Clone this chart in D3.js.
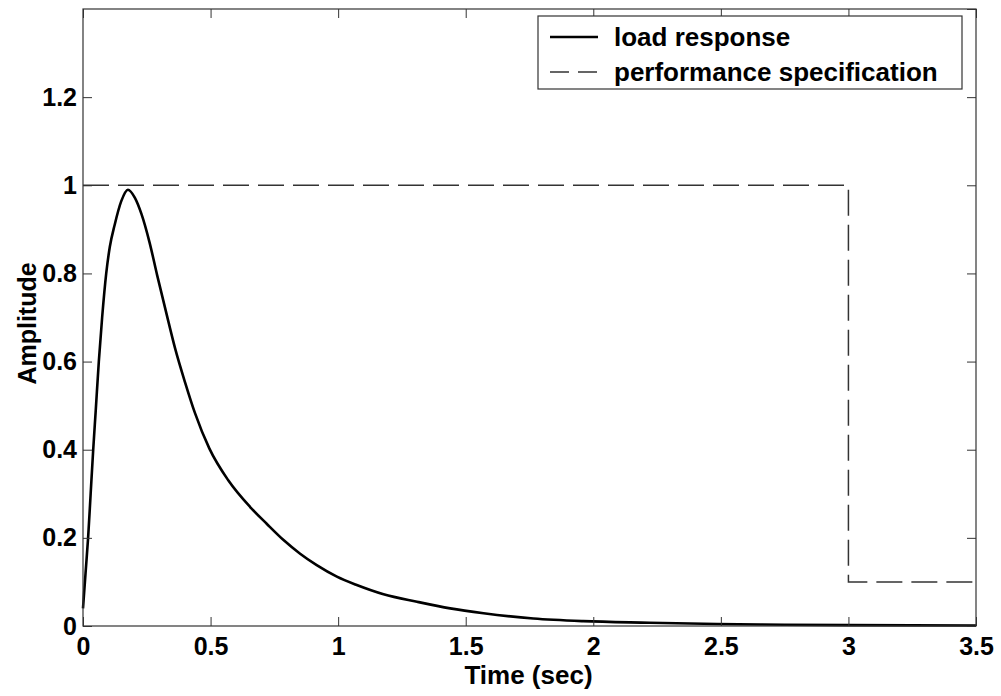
<!DOCTYPE html>
<html>
<head>
  <meta charset="utf-8">
  <title>Load response</title>
  <script src="https://cdn.jsdelivr.net/npm/d3@7/dist/d3.min.js"></script>
  <style>
    body { margin: 0; background: #fff; }
    svg { display: block; font-family: "Liberation Sans", Arial, sans-serif; font-weight: bold; }
    .tick text { font-size: 25px; fill: #000; }
  </style>
</head>
<body>
  <svg id="chart" width="1001" height="696"></svg>
  <script>
    // load response
    var respT = [0, 0.01, 0.02, 0.03, 0.04, 0.05, 0.062, 0.075, 0.091, 0.105, 0.124, 0.15, 0.176,
      0.203, 0.229, 0.261, 0.291, 0.335, 0.361, 0.4, 0.439, 0.495, 0.57, 0.655, 0.72, 0.786,
      0.851, 0.916, 0.995, 1.073, 1.178, 1.309, 1.439, 1.57, 1.765, 1.96, 2.22, 2.485, 2.75, 3.0, 3.5];
    var respY = [0.04, 0.12, 0.20, 0.30, 0.40, 0.49, 0.60, 0.70, 0.80, 0.86, 0.91, 0.964, 0.99,
      0.972, 0.935, 0.87, 0.795, 0.69, 0.63, 0.553, 0.483, 0.403, 0.33, 0.27, 0.232, 0.195,
      0.164, 0.138, 0.112, 0.093, 0.072, 0.055, 0.040, 0.029, 0.017, 0.011, 0.0075, 0.0045, 0.003, 0.002, 0.001];

    // performance specification envelope
    var specT = [0, 3, 3, 3.5];
    var specY = [1, 1, 0.1, 0.1];

    var xTicks = [0, 0.5, 1, 1.5, 2, 2.5, 3, 3.5];
    var yTicks = [0, 0.2, 0.4, 0.6, 0.8, 1, 1.2];

    var legendLabels = ['load response', 'performance specification'];

    var mLeft = 83, mRight = 976, mTop = 9, mBottom = 626;

    var x = d3.scaleLinear().domain([0, 3.5]).range([mLeft, mRight]);
    var y = d3.scaleLinear().domain([0, 1.4]).range([mBottom, mTop]);

    var svg = d3.select('#chart');
    svg.append('rect').attr('width', 1001).attr('height', 696).attr('fill', '#fff');

    var line = d3.line()
      .x(d => x(d[0]))
      .y(d => y(d[1]));

    // spec (dashed)
    svg.append('path')
      .datum(specT.map((t, i) => [t, specY[i]]))
      .attr('d', line)
      .attr('fill', 'none')
      .attr('stroke', '#333')
      .attr('stroke-width', 1.5)
      .attr('stroke-dasharray', '26,9');

    // response (solid)
    svg.append('path')
      .datum(respT.map((t, i) => [t, respY[i]]))
      .attr('d', line.curve(d3.curveMonotoneX))
      .attr('fill', 'none')
      .attr('stroke', '#000')
      .attr('stroke-width', 2.6)
      .attr('stroke-linejoin', 'round');

    // axes, ticks pointing inward like matlab
    function styleAxis(g) {
      g.select('.domain').remove();
      g.selectAll('.tick line').attr('stroke', '#333');
    }

    svg.append('g')
      .attr('transform', 'translate(0,' + mBottom + ')')
      .call(d3.axisTop(x).tickValues(xTicks).tickSize(9).tickFormat(''))
      .call(styleAxis);
    svg.append('g')
      .attr('transform', 'translate(0,' + mBottom + ')')
      .call(d3.axisBottom(x).tickValues(xTicks).tickSize(0).tickPadding(11).tickFormat(d3.format('')))
      .call(styleAxis)
      .selectAll('text').attr('dy', '0.71em');
    svg.append('g')
      .attr('transform', 'translate(0,' + mTop + ')')
      .call(d3.axisBottom(x).tickValues(xTicks).tickSize(9).tickFormat(''))
      .call(styleAxis);

    svg.append('g')
      .attr('transform', 'translate(' + mLeft + ',0)')
      .call(d3.axisRight(y).tickValues(yTicks).tickSize(9).tickFormat(''))
      .call(styleAxis);
    svg.append('g')
      .attr('transform', 'translate(' + mLeft + ',0)')
      .call(d3.axisLeft(y).tickValues(yTicks).tickSize(0).tickPadding(6).tickFormat(d3.format('')))
      .call(styleAxis);
    svg.append('g')
      .attr('transform', 'translate(' + mRight + ',0)')
      .call(d3.axisLeft(y).tickValues(yTicks.concat([1.4])).tickSize(9).tickFormat(''))
      .call(styleAxis);

    svg.selectAll('.tick text').attr('font-family', null).attr('font-size', null);

    // frame
    svg.append('rect')
      .attr('x', mLeft).attr('y', mTop)
      .attr('width', mRight - mLeft).attr('height', mBottom - mTop)
      .attr('fill', 'none').attr('stroke', '#333').attr('stroke-width', 1.2);

    // axis titles
    svg.append('text')
      .attr('x', (mLeft + mRight) / 2 - 1)
      .attr('y', 684)
      .attr('text-anchor', 'middle')
      .style('font-size', '26px')
      .text('Time (sec)');

    svg.append('text')
      .attr('transform', 'translate(36,' + ((mTop + mBottom) / 2 + 6) + ') rotate(-90)')
      .attr('text-anchor', 'middle')
      .style('font-size', '25px')
      .text('Amplitude');

    // legend
    var lg = svg.append('g');
    lg.append('rect')
      .attr('x', 538).attr('y', 16)
      .attr('width', 424).attr('height', 73)
      .attr('fill', '#fff').attr('stroke', '#333').attr('stroke-width', 1.2);

    var rows = lg.selectAll('g.row')
      .data(legendLabels)
      .enter()
      .append('g')
      .attr('class', 'row')
      .attr('transform', (d, i) => 'translate(0,' + (37 + i * 35) + ')');

    rows.append('line')
      .attr('x1', 550).attr('x2', 598)
      .attr('stroke', (d, i) => i ? '#333' : '#000')
      .attr('stroke-width', (d, i) => i ? 1.5 : 2.6)
      .attr('stroke-dasharray', (d, i) => i ? '19,9' : null);

    rows.append('text')
      .attr('x', 614)
      .attr('y', 9)
      .style('font-size', '26px')
      .text(d => d);
  </script>
</body>
</html>
